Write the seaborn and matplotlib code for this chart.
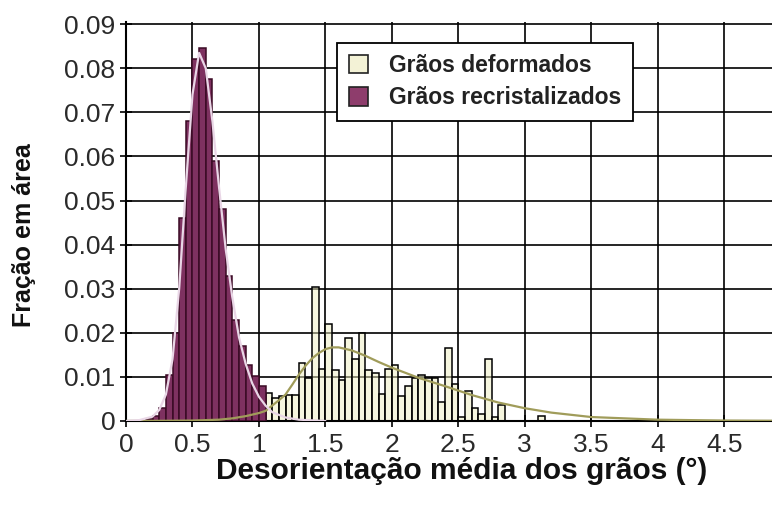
import numpy as np
import pandas as pd
import matplotlib
matplotlib.use("Agg")
import matplotlib.pyplot as plt
from matplotlib.patches import Patch
import seaborn as sns

# ---------------- data ----------------
bin_width = 0.05

# recrystallized grains: histogram starting at 0.15
recr_start = 0.15
recr_values = [0.0005, 0.0012, 0.0030, 0.0105, 0.0200, 0.0460, 0.0680, 0.0820,
               0.0845, 0.0775, 0.0590, 0.0480, 0.0330, 0.0230, 0.0170, 0.0128,
               0.0103, 0.0080]

# deformed grains: histogram starting at 1.05
def_start = 1.05
def_values = [0.0064, 0.0052, 0.0057, 0.0060, 0.0060, 0.0131, 0.0097, 0.0304,
              0.0118, 0.0219, 0.0115, 0.0092, 0.0188, 0.0141, 0.0199, 0.0116,
              0.0108, 0.0062, 0.0119, 0.0127, 0.0056, 0.0079, 0.0098, 0.0105,
              0.0098, 0.0098, 0.0042, 0.0166, 0.0085, 0.0010, 0.0068, 0.0030,
              0.0015, 0.0140, 0.0010, 0.0037, 0.0, 0.0, 0.0, 0.0, 0.0, 0.0012]

# fitted curves
recr_curve_x = [0.0, 0.1, 0.2, 0.25, 0.3, 0.35, 0.4, 0.45, 0.5, 0.55, 0.6, 0.65,
                0.7, 0.75, 0.8, 0.85, 0.9, 0.95, 1.0, 1.05, 1.1, 1.2, 1.3, 1.5]
recr_curve_y = [0.0, 0.0002, 0.0010, 0.0025, 0.0060, 0.0140, 0.0300, 0.0530,
                0.0740, 0.0835, 0.0800, 0.0680, 0.0530, 0.0390, 0.0280, 0.0190,
                0.0130, 0.0085, 0.0055, 0.0035, 0.0020, 0.0008, 0.0003, 0.0]

def_curve_x = [0.0, 0.3, 0.5, 0.7, 0.8, 0.9, 1.0, 1.05, 1.1, 1.15, 1.2, 1.25,
               1.3, 1.35, 1.4, 1.45, 1.5, 1.55, 1.6, 1.7, 1.8, 1.9, 2.0, 2.2,
               2.4, 2.6, 2.8, 3.0, 3.2, 3.5, 4.0, 4.5, 4.9]
def_curve_y = [0.0, 0.00005, 0.0001, 0.0003, 0.0006, 0.0011, 0.0018, 0.0023,
               0.0035, 0.0047, 0.0060, 0.0082, 0.0105, 0.0125, 0.0142, 0.0154,
               0.0163, 0.0167, 0.0167, 0.0160, 0.0148, 0.0134, 0.0121, 0.0098,
               0.0079, 0.0059, 0.0042, 0.0029, 0.0019, 0.0009, 0.0003, 0.0001,
               0.00005]

x_ticks = [0, 0.5, 1, 1.5, 2, 2.5, 3, 3.5, 4, 4.5]
x_tick_labels = ["0", "0.5", "1", "1.5", "2", "2.5", "3", "3.5", "4", "4.5"]
y_ticks = [0, 0.01, 0.02, 0.03, 0.04, 0.05, 0.06, 0.07, 0.08, 0.09]
y_tick_labels = ["0", "0.01", "0.02", "0.03", "0.04", "0.05", "0.06", "0.07",
                 "0.08", "0.09"]

label_def = "Grãos deformados"
label_recr = "Grãos recristalizados"
x_label = "Desorientação média dos grãos (°)"
y_label = "Fração em área"

# ---------------- figure ----------------
sns.set_theme(style="white")
plt.rcParams["font.family"] = ["Liberation Sans", "DejaVu Sans"]

fig = plt.figure(figsize=(7.72, 5.07), dpi=100)
ax = fig.add_axes([126 / 772, 86 / 507, 646 / 772, 399 / 507])

def hist_frame(start, values):
    n = len(values)
    edges = [round(start + bin_width * i, 4) for i in range(n + 1)]
    centers = [round(e + bin_width / 2, 4) for e in edges[:-1]]
    df = pd.DataFrame({"center": centers, "value": values})
    return df, edges

def_df, def_edges = hist_frame(def_start, def_values)
recr_df, recr_edges = hist_frame(recr_start, recr_values)

col_def_face = "#eeeec0"
col_recr_face = "#7e3160"

sns.histplot(data=def_df, x="center", weights="value", bins=def_edges, ax=ax,
             color=col_def_face, edgecolor="black", linewidth=1.1,
             alpha=0.5, zorder=2)
sns.histplot(data=recr_df, x="center", weights="value", bins=recr_edges, ax=ax,
             color=col_recr_face, edgecolor="#3a0a24", linewidth=1.1,
             alpha=1.0, zorder=3)

sns.lineplot(x=def_curve_x, y=def_curve_y, ax=ax, color="#a09c5a",
             linewidth=1.6, zorder=4)
sns.lineplot(x=recr_curve_x, y=recr_curve_y, ax=ax, color="#e9d6e6",
             linewidth=1.6, zorder=5)

ax.set_xlim(0, 4.86)
ax.set_ylim(0, 0.0905)
ax.set_xticks(x_ticks)
ax.set_xticklabels(x_tick_labels)
ax.set_yticks(y_ticks)
ax.set_yticklabels(y_tick_labels)

ax.grid(True, color="black", linewidth=1.2)
ax.set_axisbelow(True)
for s in ["top", "right"]:
    ax.spines[s].set_visible(False)
for s in ["left", "bottom"]:
    ax.spines[s].set_color("black")
    ax.spines[s].set_linewidth(1.5)

ax.tick_params(axis="both", direction="inout", length=9, width=1.2,
               colors="black", labelcolor="#2a2a2a", labelsize=19,
               left=True, bottom=True)
ax.tick_params(axis="x", pad=4)
ax.tick_params(axis="y", pad=3)

ax.set_xlabel(x_label, fontsize=21.5, fontweight="bold", color="#111111")
ax.xaxis.set_label_coords(0.52, -0.09, transform=ax.transAxes)
ax.xaxis.label.set_va("top")
ax.set_ylabel(y_label, fontsize=18, fontweight="bold", color="#111111")
ax.yaxis.set_label_coords(-0.14, 0.465, transform=ax.transAxes)

handles = [Patch(facecolor="#f3f2d6", edgecolor="#222222", linewidth=1.2),
           Patch(facecolor="#8e3d6c", edgecolor="#222222", linewidth=1.2)]
leg = ax.legend(handles, [label_def, label_recr], loc="upper left",
                bbox_to_anchor=(0.327, 0.948), frameon=True, fancybox=False,
                framealpha=1.0, edgecolor="black",
                prop={"weight": "bold", "size": 16.5},
                handlelength=0.85, handleheight=0.85, handletextpad=0.9,
                labelspacing=0.4, borderpad=0.5, borderaxespad=0)
leg.get_frame().set_linewidth(1.3)
for t in leg.get_texts():
    t.set_color("#222222")
leg.set_zorder(10)

fig.savefig("out.png", dpi=100)
